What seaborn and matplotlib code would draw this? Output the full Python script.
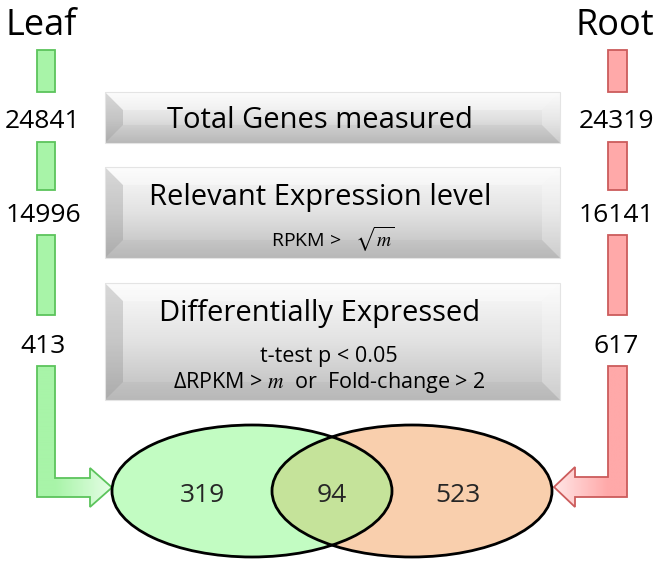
import numpy as np
import matplotlib
matplotlib.use("Agg")
import matplotlib.pyplot as plt
import seaborn as sns
from matplotlib.patches import Rectangle, Polygon, Ellipse

# ---------------------------------------------------------------
# data
# ---------------------------------------------------------------
tissues = ["Leaf", "Root"]
leaf_counts = [24841, 14996, 413]
root_counts = [24319, 16141, 617]
stage_titles = ["Total Genes measured",
                "Relevant Expression level",
                "Differentially Expressed"]
stage_notes = [[],
               ["RPKM >   $\\sqrt{m}$"],
               ["t-test p < 0.05",
                "\u0394RPKM > $m$  or  Fold-change > 2"]]
venn_labels = ["Leaf only", "Both", "Root only"]
venn_counts = [319, 94, 523]

# ---------------------------------------------------------------
# style
# ---------------------------------------------------------------
sns.set_theme(style="white")
plt.rcParams["font.family"] = ["Open Sans", "DejaVu Sans"]
plt.rcParams["mathtext.fontset"] = "stix"

green_fill, green_light, green_edge = "#a8f4a8", "#e6fee6", "#5cc45c"
red_fill, red_light, red_edge = "#ffa9a9", "#ffe6e6", "#cc5c5c"
grey_cmap = sns.blend_palette(["#fbfbfb", "#e2e2e2", "#bdbdbd"], as_cmap=True)
green_cmap = sns.blend_palette([green_fill, green_light], as_cmap=True)
red_cmap = sns.blend_palette([red_fill, red_light], as_cmap=True)

W, H = 661, 564
fig = plt.figure(figsize=(W / 100, H / 100), dpi=100)
ax = fig.add_axes([0, 0, 1, 1])

# ---------------------------------------------------------------
# grey bevelled boxes
# ---------------------------------------------------------------
box_x0, box_x1 = 105, 560
box_rows = [(92, 143), (167, 258), (283, 400)]
title_base = [128, 205, 321]
note_base = [[], [247], [362, 388]]
note_size = [[], [14], [15.5, 15.5]]
note_x = [[], [333], [329, 329]]
bev = 18

for i, (y0, y1) in enumerate(box_rows):
    grad = np.linspace(0, 1, 200).reshape(-1, 1)
    ax.imshow(grad, cmap=grey_cmap, extent=(box_x0, box_x1, y1, y0),
              aspect="auto", origin="upper", zorder=1)
    d = min(bev, (y1 - y0) / 2 - 3)
    # left bevel (dark), right bevel (light), top (light), bottom (dark)
    ax.add_patch(Polygon([(box_x0, y0), (box_x0 + d, y0 + d), (box_x0 + d, y1 - d), (box_x0, y1)],
                         closed=True, fc="#808080", alpha=0.28, ec="none", zorder=2))
    ax.add_patch(Polygon([(box_x1, y0), (box_x1 - d, y0 + d), (box_x1 - d, y1 - d), (box_x1, y1)],
                         closed=True, fc="#ffffff", alpha=0.25, ec="none", zorder=2))
    ax.add_patch(Polygon([(box_x0, y0), (box_x1, y0), (box_x1 - d, y0 + d), (box_x0 + d, y0 + d)],
                         closed=True, fc="#ffffff", alpha=0.35, ec="none", zorder=2))
    ax.add_patch(Polygon([(box_x0, y1), (box_x1, y1), (box_x1 - d, y1 - d), (box_x0 + d, y1 - d)],
                         closed=True, fc="#909090", alpha=0.10, ec="none", zorder=2))
    ax.add_patch(Rectangle((box_x0, y0), box_x1 - box_x0, y1 - y0, fc="none",
                           ec="#e4e4e4", lw=0.8, zorder=3))

    ax.text(320, title_base[i], stage_titles[i], fontsize=21, ha="center",
            va="baseline", color="black", zorder=4)
    for note, yb, fs, xn in zip(stage_notes[i], note_base[i], note_size[i], note_x[i]):
        ax.text(xn, yb, note, fontsize=fs, ha="center", va="baseline",
                color="black", zorder=4)

# ---------------------------------------------------------------
# side columns with arrows
# ---------------------------------------------------------------
segments = [(50, 92), (142, 190), (235, 315)]
count_base = [128, 222, 353]


def draw_column(xa, xb, fill, edge, cmap, arrow_pts, grad_range, name, name_x, counts, num_x):
    for y0, y1 in segments:
        ax.add_patch(Rectangle((xa, y0), xb - xa, y1 - y0, fc=fill, ec=edge, lw=1.3, zorder=2))
    # L-shaped arrow with gradient fill
    poly = Polygon(arrow_pts, closed=True, fc="none", ec=edge, lw=1.3, zorder=3)
    ax.add_patch(poly)
    xs = np.array([p[0] for p in arrow_pts])
    ys = np.array([p[1] for p in arrow_pts])
    gx = np.linspace(xs.min(), xs.max(), 300)
    t = np.clip((gx - grad_range[0]) / (grad_range[1] - grad_range[0]), 0, 1)
    im = ax.imshow(t.reshape(1, -1), cmap=cmap, vmin=0, vmax=1,
                   extent=(xs.min(), xs.max(), ys.max(), ys.min()),
                   aspect="auto", origin="upper", zorder=2)
    im.set_clip_path(poly)
    ax.text(name_x, 35, name, fontsize=26, ha="center", va="baseline", color="black")
    for c, yb in zip(counts, count_base):
        ax.text(num_x, yb, str(c), fontsize=19, ha="center", va="baseline", color="black")


left_arrow = [(37, 366), (55, 366), (55, 478), (90, 478), (90, 468), (112, 487.5),
              (90, 507), (90, 497), (37, 497)]
right_arrow = [(627, 366), (608, 366), (608, 477), (575, 477), (575, 467), (554, 487),
               (575, 507), (575, 497), (627, 497)]

draw_column(37, 55, green_fill, green_edge, green_cmap, left_arrow, (55, 112),
            tissues[0], 41, leaf_counts, 43)
draw_column(608, 627, red_fill, red_edge, red_cmap, right_arrow, (608, 554),
            tissues[1], 615, root_counts, 616)

# ---------------------------------------------------------------
# Venn diagram
# ---------------------------------------------------------------
left_c, right_c, cy = 252, 412, 491
ew, eh = 280, 132
e_left = Ellipse((left_c, cy), ew, eh, fc="#c2fcc2", ec="none", zorder=2)
e_right = Ellipse((right_c, cy), ew, eh, fc="#f9cfad", ec="none", zorder=2)
ax.add_patch(e_left)
ax.add_patch(e_right)
e_both = Ellipse((right_c, cy), ew, eh, fc="#c5e39a", ec="none", zorder=3)
ax.add_patch(e_both)
e_both.set_clip_path(e_left)
for c in (left_c, right_c):
    ax.add_patch(Ellipse((c, cy), ew, eh, fc="none", ec="black", lw=2.0, zorder=4))

for lab, cnt, x in zip(venn_labels, venn_counts, [202, 332, 458]):
    ax.text(x, 502, str(cnt), fontsize=19, ha="center", va="baseline", zorder=5)

ax.set_xlim(0, W)
ax.set_ylim(H, 0)
ax.axis("off")
fig.savefig("out.png", dpi=100, facecolor="white")
